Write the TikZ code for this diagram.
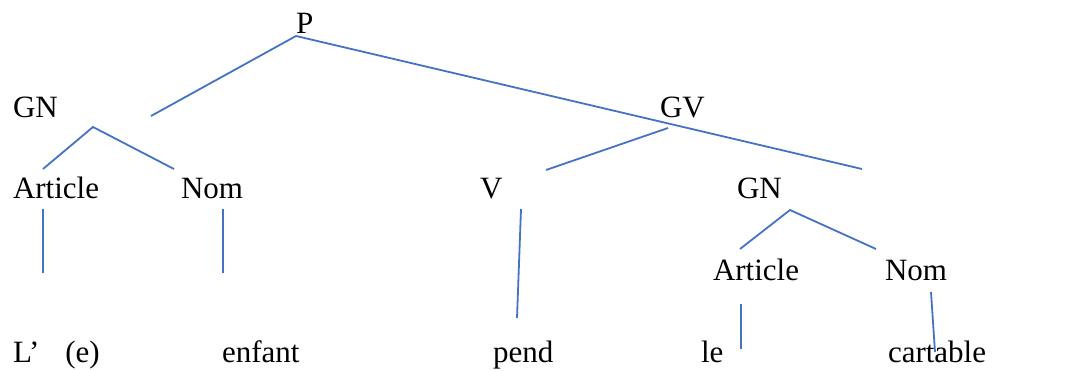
\documentclass[tikz,border=0pt]{standalone}
\usepackage{fontspec}
\setmainfont{Liberation Serif}
\definecolor{treeblue}{HTML}{4472C4}
\tikzset{
  lbl/.style={anchor=base west, inner sep=0pt, outer sep=0pt, font=\fontsize{31}{36}\selectfont},
  branch/.style={draw=treeblue, line width=1.8pt}
}
\begin{document}
\begin{tikzpicture}[x=1pt,y=-1pt]
\useasboundingbox (0,0) rectangle (1082,370);
% labels
\node[lbl] (P) at (296,33) {P};
\node[lbl] (GN1) at (13,117) {GN};
\node[lbl] (GV) at (660,117) {GV};
\node[lbl] (Art1) at (13,198) {Article};
\node[lbl] (Nom1) at (181,198) {Nom};
\node[lbl] (V) at (480,198) {V};
\node[lbl] (GN2) at (737,198) {GN};
\node[lbl] (Art2) at (713,280) {Article};
\node[lbl] (Nom2) at (885,280) {Nom};
\node[lbl] (w1) at (13,362) {L’\hspace{26pt}(e)};
\node[lbl] (w2) at (222,362) {enfant};
\node[lbl] (w3) at (493,362) {pend};
\node[lbl] (w4) at (701,362) {le};
\node[lbl] (w5) at (888,362) {cartable};
% branch end points
\coordinate (pA) at (296,36);
\coordinate (pL) at (151,116);
\coordinate (pR) at (862,169);
\coordinate (gvA) at (668,128);
\coordinate (gvL) at (546,170);
\coordinate (gn1A) at (93,127);
\coordinate (gn1L) at (43,169);
\coordinate (gn1R) at (174,169);
\coordinate (a1T) at (43,209);
\coordinate (a1B) at (43,273);
\coordinate (n1T) at (223,209);
\coordinate (n1B) at (223,273);
\coordinate (vT) at (521,209);
\coordinate (vB) at (517,318);
\coordinate (gn2A) at (790,210);
\coordinate (gn2L) at (740,249);
\coordinate (gn2R) at (876,249);
\coordinate (a2T) at (741,304);
\coordinate (a2B) at (741,349);
\coordinate (n2T) at (931,292);
\coordinate (n2B) at (935,352);
% branches
\draw[branch] (pL) -- (pA) -- (pR);
\draw[branch] (gvL) -- (gvA);
\draw[branch] (gn1L) -- (gn1A) -- (gn1R);
\draw[branch] (a1T) -- (a1B);
\draw[branch] (n1T) -- (n1B);
\draw[branch] (vT) -- (vB);
\draw[branch] (gn2L) -- (gn2A) -- (gn2R);
\draw[branch] (a2T) -- (a2B);
\draw[branch] (n2T) -- (n2B);
\end{tikzpicture}
\end{document}
